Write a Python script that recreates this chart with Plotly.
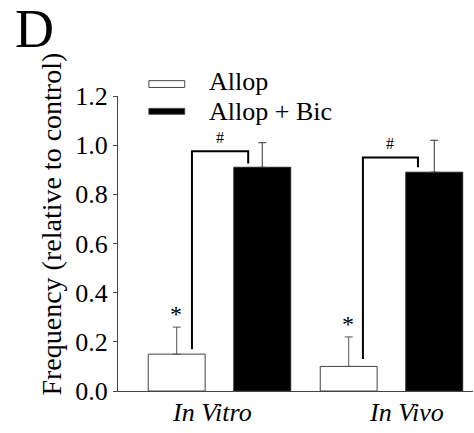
import plotly.graph_objects as go

# Data: frequency relative to control
conditions = ["In Vitro", "In Vivo"]
allop_mean = [0.15, 0.10]
allop_sem = [0.11, 0.12]
bic_mean = [0.91, 0.89]
bic_sem = [0.10, 0.13]

series_names = ["Allop", "Allop + Bic"]
y_ticks = [0.0, 0.2, 0.4, 0.6, 0.8, 1.0, 1.2]

FONT = "Times New Roman, Tinos, Liberation Serif, DejaVu Serif"

fig = go.Figure()
fig.add_trace(go.Bar(
    x=conditions, y=allop_mean, name=series_names[0],
    marker=dict(color="white", line=dict(color="#444", width=1)),
    error_y=dict(type="data", symmetric=False, array=allop_sem,
                 arrayminus=[0] * len(allop_sem),
                 color="#555", thickness=1, width=4),
    showlegend=False,
))
fig.add_trace(go.Bar(
    x=conditions, y=bic_mean, name=series_names[1],
    marker=dict(color="black", line=dict(color="#222", width=1)),
    error_y=dict(type="data", symmetric=False, array=bic_sem,
                 arrayminus=[0] * len(bic_sem),
                 color="#333", thickness=1, width=4),
    showlegend=False,
))

shapes = []
annotations = []

# Significance brackets (#) from the Allop bar to the Allop + Bic bar
brackets = [
    # (category index, left x offset, right x offset, start y, top y, end y)
    (0, -0.160, 0.167, 0.17, 0.975, 0.925),
    (1, -0.166, 0.154, 0.13, 0.950, 0.910),
]
for ci, lo, ro, y0, ytop, y1 in brackets:
    xl, xr = ci + lo, ci + ro
    path = f"M {xl},{y0} L {xl},{ytop} L {xr},{ytop} L {xr},{y1}"
    shapes.append(dict(type="path", path=path, xref="x", yref="y",
                       line=dict(color="black", width=2)))
    annotations.append(dict(x=(xl + xr) / 2, y=ytop, xref="x", yref="y",
                            text="#", showarrow=False, yanchor="bottom",
                            yshift=3, font=dict(family=FONT, size=16, color="black")))

# Asterisks above the Allop error bars
for ci, (m, s) in enumerate(zip(allop_mean, allop_sem)):
    annotations.append(dict(x=ci - 0.25, y=m + s, xref="x", yref="y",
                            text="*", showarrow=False, yanchor="bottom",
                            yshift=-2, font=dict(family=FONT, size=24, color="black")))

# Italic category labels
for ci, (name, shift) in enumerate(zip(conditions, [-7, 15])):
    annotations.append(dict(x=ci, y=0, xref="x", yref="paper",
                            text=f"<i>{name}</i>", showarrow=False,
                            yanchor="top", yshift=-5, xshift=shift,
                            font=dict(family=FONT, size=26, color="black")))

# Legend drawn as wide swatches with labels
legend_items = [
    (series_names[0], "white", 1.052, 1.029, 1.050),
    (series_names[1], "black", 0.958, 0.938, 0.946),
]
for label, fill, ya, yb, yt in legend_items:
    shapes.append(dict(type="rect", xref="paper", yref="paper",
                       x0=0.087, x1=0.188, y0=yb, y1=ya,
                       fillcolor=fill, line=dict(color="#444", width=1)))
    annotations.append(dict(x=0.25, y=yt, xref="paper", yref="paper",
                            text=label, showarrow=False, xanchor="left",
                            yanchor="middle",
                            font=dict(family=FONT, size=26, color="black")))

# Axis title and panel letter
annotations.append(dict(x=-0.188, y=0.565, xref="paper", yref="paper",
                        text="Frequency (relative to control)", textangle=-90,
                        showarrow=False, xanchor="center", yanchor="middle",
                        font=dict(family=FONT, size=28, color="black")))
annotations.append(dict(x=-0.236, y=1.228, xref="paper", yref="paper",
                        text="D", showarrow=False, xanchor="center",
                        yanchor="middle",
                        font=dict(family=FONT, size=54, color="black")))

fig.update_layout(
    width=474, height=433,
    margin=dict(l=118, r=1, t=95.5, b=41.5),
    paper_bgcolor="white", plot_bgcolor="white",
    barmode="group", bargap=0.005, bargroupgap=0.335,
    font=dict(family=FONT, color="black"),
    shapes=shapes, annotations=annotations,
    xaxis=dict(range=[-0.59, 1.474], showticklabels=False, ticks="",
               showline=True, linecolor="#444", linewidth=1,
               showgrid=False, zeroline=False, fixedrange=True),
    yaxis=dict(range=[0, 1.2], tickvals=y_ticks,
               ticktext=[f"{v:.1f}" for v in y_ticks],
               ticks="outside", ticklen=4, tickcolor="#444",
               showline=True, linecolor="#444", linewidth=1,
               showgrid=False, zeroline=False,
               tickfont=dict(family=FONT, size=26, color="black")),
)

fig.write_html("out.html")
